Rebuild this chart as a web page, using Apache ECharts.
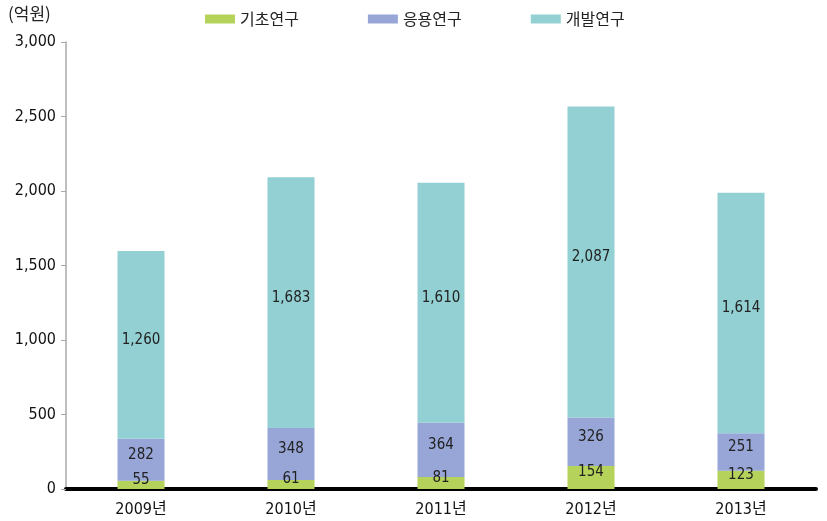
<!DOCTYPE html>
<html><head><meta charset="utf-8">
<script src="https://cdn.jsdelivr.net/npm/echarts@6/dist/echarts.min.js"></script>
<style>html,body{margin:0;padding:0;background:#fff}#c{width:827px;height:521px}</style>
</head><body><div id="c"></div>
<script>
const categories = ['2009년','2010년','2011년','2012년','2013년'];
const basic = [55, 61, 81, 154, 123];
const applied = [282, 348, 364, 326, 251];
const development = [1260, 1683, 1610, 2087, 1614];
const seriesNames = ['기초연구','응용연구','개발연구'];
const yTicks = {min: 0, max: 3000, interval: 500};

const FONT = '"Liberation Sans Narrow", "DejaVu Sans Condensed", "Noto Sans CJK KR", sans-serif';
const colors = ['#b5d25a', '#97a6d7', '#93d0d3'];
const chart = echarts.init(document.getElementById('c'));
const lbl = {show: true, position: 'inside', offset: [0, -5], color: '#222', fontSize: 15, fontFamily: FONT,
  formatter: p => p.value.toLocaleString('en-US')};
const mk = (name, data, i) => ({name, type: 'bar', stack: 't', data, barWidth: 47,
  itemStyle: {color: colors[i]}, label: lbl});
chart.setOption({
  animation: false,
  grid: {left: 66, right: 11, top: 42, bottom: 32},
  legend: {top: 6, left: 200, itemWidth: 30, itemHeight: 9, itemGap: 69, icon: 'rect',
    textStyle: {fontSize: 16, color: '#222', fontFamily: '"Noto Sans CJK KR", sans-serif'}},
  graphic: [{type: 'text', left: 8, top: 5, style: {text: '(억원)', fill: '#222',
    font: '17px "Noto Sans CJK KR", sans-serif'}}],
  xAxis: {type: 'category', data: categories,
    axisLine: {lineStyle: {color: '#000', width: 4}}, axisTick: {show: false},
    axisLabel: {fontSize: 16, color: '#111', fontFamily: FONT, margin: 13}},
  yAxis: {type: 'value', min: yTicks.min, max: yTicks.max, interval: yTicks.interval,
    axisLine: {show: true, lineStyle: {color: '#aaa', width: 1.5}},
    axisTick: {show: true, length: 5, lineStyle: {color: '#aaa'}},
    splitLine: {show: false},
    axisLabel: {fontSize: 16, color: '#111', fontFamily: FONT, margin: 10,
      formatter: v => v.toLocaleString('en-US')}},
  series: [mk(seriesNames[0], basic, 0), mk(seriesNames[1], applied, 1), mk(seriesNames[2], development, 2)]
});
</script></body></html>
